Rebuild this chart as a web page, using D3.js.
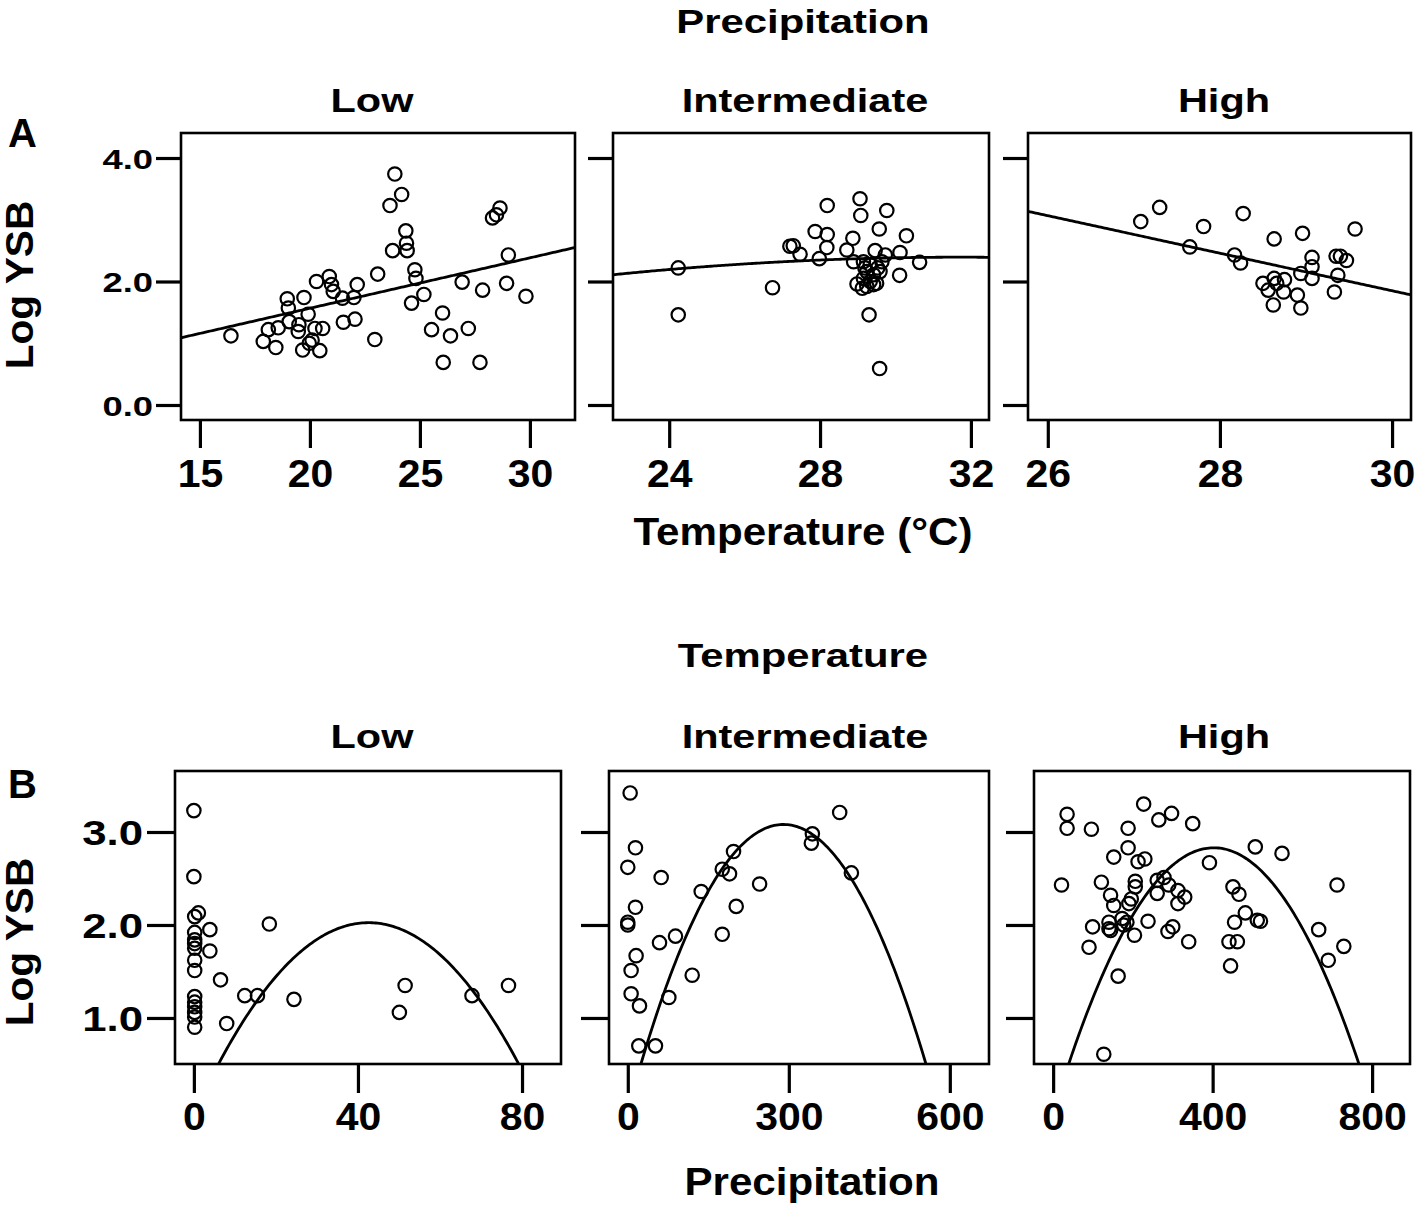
<!DOCTYPE html>
<html><head><meta charset="utf-8">
<script src="https://cdn.jsdelivr.net/npm/d3@7"></script>
<style>
html,body{margin:0;padding:0;background:#fff;}
svg{display:block;font-family:"Liberation Sans",Arial,sans-serif;font-weight:bold;}
</style></head>
<body>
<svg id="chart" width="1418" height="1209"></svg>
<script>
// ---------- DATA ----------
const facetLabels = ["Low", "Intermediate", "High"];
const rowTitles = ["Precipitation", "Temperature"];
const xTitles = ["Temperature (°C)", "Precipitation"];
const yTitle = "Log YSB";
const panelLetters = ["A", "B"];

const yTicksA = [0, 2, 4];
const yTicksB = [1, 2, 3];
const xTicksA1 = [15, 20, 25, 30];
const xTicksA2 = [24, 28, 32];
const xTicksA3 = [26, 28, 30];
const xTicksB1 = [0, 40, 80];
const xTicksB2 = [0, 300, 600];
const xTicksB3 = [0, 400, 800];

// Row A: Log YSB vs temperature, by precipitation class
const aLow = [[16.41,1.12],[18.11,1.22],[17.88,1.03],[18.45,0.93],[18.56,1.25],[18.97,1.72],[19.02,1.57],[19.06,1.35],[19.47,1.19],[19.73,1.74],[19.92,1.47],[19.67,0.89],[19.97,1.00],[20.23,1.24],[20.45,0.88],[20.58,1.24],[20.30,2.00],[20.88,2.08],[20.98,1.95],[21.06,1.84],[21.48,1.73],[22.00,1.74],[22.15,1.95],[21.52,1.34],[22.05,1.39],[23.08,2.12],[22.95,1.06],[23.86,3.74],[24.17,3.41],[23.64,3.23],[24.36,2.82],[23.76,2.50],[24.39,2.62],[24.42,2.50],[24.77,2.19],[24.82,2.05],[25.18,1.79],[24.62,1.65],[26.03,1.49],[25.53,1.22],[26.39,1.12],[26.06,0.69],[27.20,1.24],[27.73,0.69],[26.92,1.99],[27.85,1.86],[28.94,1.97],[29.82,1.76],[29.02,2.43],[28.30,3.03],[28.48,3.08],[28.64,3.19],[19.50,1.30],[20.10,1.05]];
const aInter = [[24.24,2.22],[24.24,1.46],[26.74,1.90],[27.20,2.57],[27.29,2.58],[27.47,2.44],[27.87,2.81],[28.19,3.23],[28.19,2.76],[28.18,2.55],[27.98,2.37],[28.71,2.51],[28.87,2.70],[29.06,3.34],[29.08,3.07],[29.77,3.15],[29.57,2.85],[30.29,2.74],[30.12,2.47],[30.64,2.31],[30.11,2.10],[29.46,2.50],[29.73,2.43],[28.89,2.32],[29.15,2.32],[29.33,2.27],[29.53,2.22],[29.24,2.16],[29.42,2.11],[29.59,2.16],[29.15,2.05],[29.33,2.00],[29.50,1.97],[28.98,1.96],[29.12,1.89],[29.24,1.92],[29.42,1.95],[29.30,1.46],[29.58,0.59],[29.64,2.32],[29.19,2.22]];
const aHigh = [[27.08,2.97],[27.30,3.20],[27.81,2.89],[27.65,2.56],[28.27,3.10],[28.17,2.43],[28.24,2.30],[28.63,2.69],[28.96,2.78],[29.57,2.85],[29.07,2.39],[29.07,2.24],[28.94,2.13],[29.07,2.05],[29.35,2.41],[29.40,2.41],[29.47,2.34],[29.37,2.10],[29.33,1.83],[28.50,1.97],[28.56,1.86],[28.63,2.05],[28.75,2.03],[28.74,1.83],[28.62,1.62],[28.90,1.78],[28.94,1.57],[28.66,1.97]];

// Row B: Log YSB vs precipitation, by temperature class
const bLow = [[0,3.23],[0,2.52],[1.1,2.13],[0.2,2.09],[3.9,1.95],[3.9,1.72],[0.2,1.92],[0.2,1.84],[0.2,1.75],[0.2,1.62],[0.2,1.51],[0.2,1.23],[0.2,1.12],[0.2,1.01],[0.2,0.90],[0.2,1.06],[0.2,1.17],[0.2,1.80],[18.4,2.01],[6.5,1.41],[12.4,1.24],[15.5,1.24],[8.0,0.94],[24.4,1.20],[51.5,1.35],[50.1,1.06],[67.8,1.24],[76.7,1.35]];
const bInter = [[4.4,3.42],[14.3,2.83],[0,2.62],[62.2,2.51],[14.3,2.19],[0,2.03],[0,2.00],[15.5,1.67],[6.2,1.51],[6.2,1.26],[21.8,1.13],[20.5,0.70],[51.6,0.70],[59.1,1.81],[88.9,1.88],[120,1.46],[76.5,1.22],[136.8,2.36],[176,2.60],[189.6,2.55],[197,2.79],[176,1.90],[202,2.20],[245.6,2.44],[343.9,2.98],[342,2.88],[394.8,3.21],[416.6,2.56]];
const bHigh = [[35,3.19],[35,3.04],[96,3.03],[21,2.43],[227,3.30],[265,3.13],[297,3.20],[350,3.09],[188,3.04],[188,2.83],[152,2.73],[213,2.68],[230,2.71],[121,2.46],[144,2.32],[206,2.47],[206,2.41],[196,2.28],[152,2.21],[140,2.03],[144,1.94],[99,1.98],[90,1.76],[173,2.07],[185,2.03],[204,1.89],[238,2.04],[163,1.45],[127,0.61],[261,2.48],[278,2.51],[290,2.43],[261,2.34],[313,2.37],[313,2.23],[330,2.30],[288,1.93],[300,1.98],[340,1.82],[392,2.67],[451,2.41],[466,2.33],[482,2.13],[455,2.03],[441,1.82],[462,1.82],[445,1.56],[512,2.05],[520,2.04],[507,2.84],[574,2.77],[712,2.43],[666,1.95],[729,1.77],[690,1.62],[190,2.23],[177,2.00],[140,1.96]];

// fitted polynomial coefficients [c0, c1, c2] (y = c0 + c1*x + c2*x^2)
const fitALow = [-0.065, 0.0816, 0];
const fitAInter = [-0.985, 0.2131, -0.00336];
const fitAHigh = [10.97, -0.304, 0];
const fitBLow = [-0.035, 0.0967, -0.001135];
const fitBInter = [0.008, 0.02119, -0.00003653];
const fitBHigh = [-0.02, 0.014145, -0.00001755];

// ---------- LAYOUT ----------
const svg = d3.select("#chart");
const FONT = '"Liberation Sans", Arial, sans-serif';
const titleCenters = [372, 805, 1224];

function stretch(sel, factor){
  sel.each(function(){
    const w = this.getComputedTextLength();
    if (w > 0) {
      this.setAttribute("textLength", w * factor);
      this.setAttribute("lengthAdjust", "spacingAndGlyphs");
    }
  });
}

const panels = [
  // row A
  {row:0, x0:181, x1:575, y0:133, y1:420, xdom:[14.14,32.05], ydom:[-0.243,4.405], yTickVals:yTicksA, yFmt:d3.format(".1f"), showY:true, xt:xTicksA1, data:aLow, fit:fitALow, title:facetLabels[0]},
  {row:0, x0:613, x1:989, y0:133, y1:420, xdom:[22.51,32.48], ydom:[-0.243,4.405], yTickVals:yTicksA, showY:false, xt:xTicksA2, data:aInter, fit:fitAInter, title:facetLabels[1]},
  {row:0, x0:1028, x1:1411, y0:133, y1:420, xdom:[25.77,30.22], ydom:[-0.243,4.405], yTickVals:yTicksA, showY:false, xt:xTicksA3, data:aHigh, fit:fitAHigh, title:facetLabels[2]},
  // row B
  {row:1, x0:175, x1:561, y0:771, y1:1064, xdom:[-4.6,89.5], ydom:[0.505,3.656], yTickVals:yTicksB, yFmt:d3.format(".1f"), showY:true, xt:xTicksB1, data:bLow, fit:fitBLow, title:facetLabels[0]},
  {row:1, x0:609, x1:989, y0:771, y1:1064, xdom:[-35,673], ydom:[0.505,3.656], yTickVals:yTicksB, showY:false, xt:xTicksB2, data:bInter, fit:fitBInter, title:facetLabels[1]},
  {row:1, x0:1034, x1:1410, y0:771, y1:1064, xdom:[-48,895], ydom:[0.505,3.656], yTickVals:yTicksB, showY:false, xt:xTicksB3, data:bHigh, fit:fitBHigh, title:facetLabels[2]}
];

const defs = svg.append("defs");

panels.forEach((p, i) => {
  const x = d3.scaleLinear().domain(p.xdom).range([p.x0, p.x1]);
  const y = d3.scaleLinear().domain(p.ydom).range([p.y1, p.y0]);
  const g = svg.append("g");

  defs.append("clipPath").attr("id", "clip" + i)
    .append("rect").attr("x", p.x0).attr("y", p.y0)
    .attr("width", p.x1 - p.x0).attr("height", p.y1 - p.y0);

  // x axis
  const xa = g.append("g").attr("transform", `translate(0,${p.y1})`)
    .call(d3.axisBottom(x).tickValues(p.xt).tickSize(p.row === 0 ? 28 : 29).tickSizeOuter(0).tickFormat(d3.format("d")));
  xa.select(".domain").remove();
  xa.selectAll(".tick line").attr("stroke", "#000").attr("stroke-width", 3.2);
  const xt = xa.selectAll(".tick text")
    .attr("y", p.row === 0 ? 67 : 66).attr("dy", 0)
    .attr("fill", "#000").style("font-family", FONT).style("font-weight", "bold").style("font-size", "39px");
  stretch(xt, 1.05);

  // y axis
  const ya = g.append("g").attr("transform", `translate(${p.x0},0)`)
    .call(d3.axisLeft(y).tickValues(p.yTickVals).tickSize(p.row === 0 ? 25 : 28).tickSizeOuter(0)
      .tickFormat(p.showY ? p.yFmt : () => ""));
  ya.select(".domain").remove();
  ya.selectAll(".tick line").attr("stroke", "#000").attr("stroke-width", 3.2);
  if (p.showY) {
    const yt = ya.selectAll(".tick text")
      .attr("x", p.row === 0 ? -28 : -32).attr("dy", "0.36em")
      .attr("fill", "#000").style("font-family", FONT).style("font-weight", "bold")
      .style("font-size", p.row === 0 ? "28px" : "35px");
    stretch(yt, p.row === 0 ? 1.3 : 1.25);
  }

  // box
  g.append("rect").attr("x", p.x0).attr("y", p.y0)
    .attr("width", p.x1 - p.x0).attr("height", p.y1 - p.y0)
    .attr("fill", "none").attr("stroke", "#000").attr("stroke-width", 2.6);

  // fit curve
  const xs = d3.range(0, 201).map(k => p.xdom[0] + (p.xdom[1] - p.xdom[0]) * k / 200);
  const line = d3.line()
    .x(d => x(d))
    .y(d => y(p.fit[0] + p.fit[1] * d + p.fit[2] * d * d));
  g.append("path").datum(xs).attr("d", line)
    .attr("clip-path", `url(#clip${i})`)
    .attr("fill", "none").attr("stroke", "#000").attr("stroke-width", 2.8);

  // points
  g.append("g").attr("clip-path", `url(#clip${i})`)
    .selectAll("circle").data(p.data).join("circle")
    .attr("cx", d => x(d[0])).attr("cy", d => y(d[1])).attr("r", 6.7)
    .attr("fill", "none").attr("stroke", "#000").attr("stroke-width", 2.2);

  // facet title
  const ft = svg.append("text")
    .attr("x", titleCenters[i % 3])
    .attr("y", p.row === 0 ? 112 : 748)
    .attr("text-anchor", "middle")
    .style("font-family", FONT).style("font-weight", "bold").style("font-size", "34px")
    .text(p.title);
  stretch(ft, 1.22);
});

// Row titles
function bigText(txt, x, yb, size, factor, anchor){
  const t = svg.append("text").attr("x", x).attr("y", yb)
    .attr("text-anchor", anchor || "middle")
    .style("font-family", FONT).style("font-weight", "bold").style("font-size", size + "px")
    .text(txt);
  stretch(t, factor);
  return t;
}
bigText(rowTitles[0], 803, 33, 34, 1.23);
bigText(rowTitles[1], 803, 667, 34, 1.23);
bigText(xTitles[0], 803, 545, 39, 1.08);
bigText(xTitles[1], 812, 1195, 39, 1.08);
bigText(panelLetters[0], 8, 147, 40, 1.0, "start");
bigText(panelLetters[1], 8, 798, 40, 1.0, "start");

// y titles (rotated)
[[285], [942]].forEach(([cy]) => {
  const t = svg.append("text")
    .attr("transform", `translate(33,${cy}) rotate(-90)`)
    .attr("text-anchor", "middle")
    .style("font-family", FONT).style("font-weight", "bold").style("font-size", "38px")
    .text(yTitle);
  stretch(t, 1.07);
});
</script>
</body></html>
